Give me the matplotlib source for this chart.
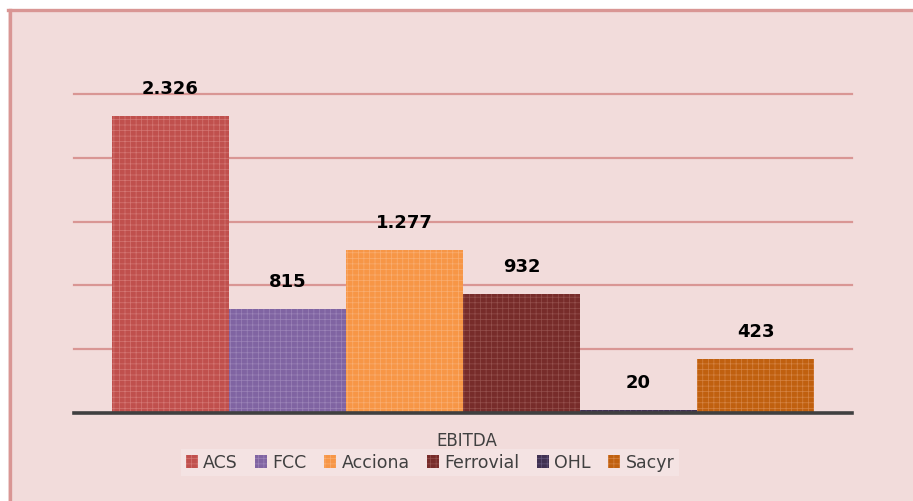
import matplotlib.pyplot as plt
from matplotlib.patches import Patch, Rectangle
from matplotlib.lines import Line2D

# datos
empresas = ['ACS', 'FCC', 'Acciona', 'Ferrovial', 'OHL', 'Sacyr']
ebitda = [2326, 815, 1277, 932, 20, 423]
etiquetas = ['2.326', '815', '1.277', '932', '20', '423']
colores = ['#C0504D', '#8064A2', '#F79646', '#772C2A', '#403152', '#C0600F']
tramas = ['#D47774', '#9C84B8', '#F9AE72', '#94504D', '#62557A', '#D58445']

plt.rcParams['font.family'] = ['DejaVu Sans']
plt.rcParams['hatch.linewidth'] = 0.5

fig = plt.figure(figsize=(9.13, 5.01), dpi=100)
W, H = 913, 501

# fondo del grafico con borde arriba e izquierda
fig.patches.append(Rectangle((8 / W, 0), 1, 1 - 9 / H, transform=fig.transFigure,
                             facecolor='#F2DCDB', edgecolor='none', zorder=-10))
fig.lines.append(Line2D([9.5 / W, 9.5 / W], [0, 1 - 9.5 / H], transform=fig.transFigure,
                        color='#D99694', lw=2.4, zorder=-9))
fig.lines.append(Line2D([8 / W, 1], [1 - 10 / H, 1 - 10 / H], transform=fig.transFigure,
                        color='#D99694', lw=2.4, zorder=-9))

ax = fig.add_axes([74 / W, (H - 413) / H, (852 - 74) / W, (413 - 94) / H])
ax.set_facecolor('none')

x = range(len(empresas))
ax.bar(x, ebitda, width=1.0, color=colores, edgecolor='none', zorder=3)
for i in x:
    ax.bar(i, ebitda[i], width=1.0, color='none', edgecolor=tramas[i],
           hatch='+++', linewidth=0, zorder=4)
    ax.text(i, ebitda[i] + 215, etiquetas[i], ha='center', va='center',
            fontsize=13, fontweight='bold', color='black', zorder=5)

for g in [500, 1000, 1500, 2000, 2500]:
    ax.axhline(g, color='#D99694', lw=1.6, zorder=1, clip_on=False)
ax.axhline(0, color='#404040', lw=2.6, zorder=6, clip_on=False)

ax.set_xlim(-0.5 - 0.325, 5.5 + 0.325)
ax.set_ylim(0, 2500)
ax.set_xticks([])
ax.set_yticks([])
for s in ax.spines.values():
    s.set_visible(False)

fig.text(467 / W, 1 - 441 / H, 'EBITDA', ha='center', va='center',
         fontsize=12, color='#404040')

handles = [Patch(facecolor=colores[i], edgecolor=tramas[i], hatch='+++', linewidth=0,
                 label=empresas[i]) for i in x]
leg = fig.legend(handles=handles, ncol=6, loc='center', bbox_to_anchor=(430 / W, 1 - 462.5 / H),
                 frameon=True, fontsize=12.5, handlelength=0.7, handleheight=0.7,
                 handletextpad=0.3, columnspacing=1.0, borderpad=0.25, fancybox=False)
leg.get_frame().set_facecolor('#F5E6E6')
leg.get_frame().set_edgecolor('none')
for t in leg.get_texts():
    t.set_color('#404040')

fig.savefig('out.png', dpi=100, facecolor='white')
